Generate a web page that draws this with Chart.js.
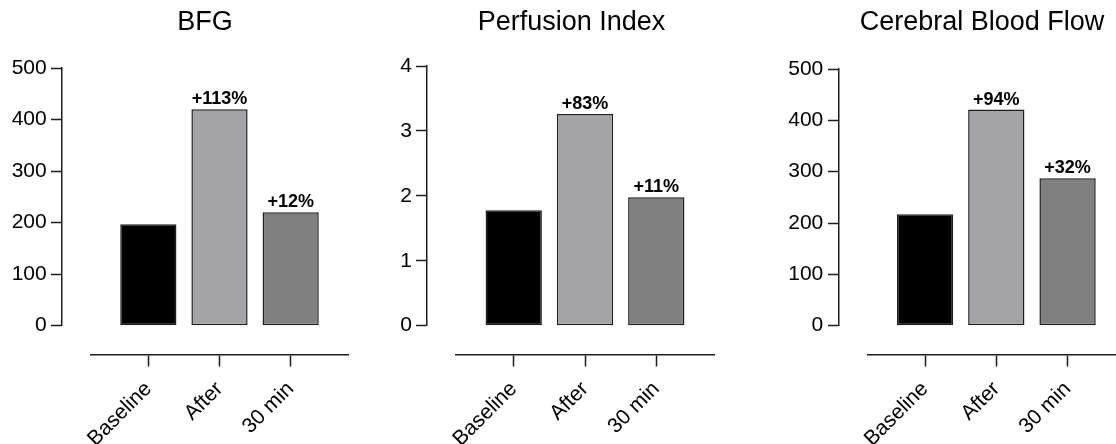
<!DOCTYPE html>
<html>
<head>
<meta charset="utf-8">
<script src="https://cdn.jsdelivr.net/npm/chart.js@4.4.1/dist/chart.umd.min.js"></script>
<style>
  html, body { margin: 0; padding: 0; background: #fff; overflow: hidden; }
  #wrap { position: relative; width: 1116px; height: 444px; overflow: hidden; }
  canvas { position: absolute; top: 0; }
</style>
</head>
<body>
<div id="wrap">
  <canvas id="bfgChart" width="410" height="444" style="left:0px"></canvas>
  <canvas id="perfusionChart" width="363" height="444" style="left:390px"></canvas>
  <canvas id="cbfChart" width="444" height="444" style="left:760px"></canvas>
</div>
<script>
const categories = ['Baseline', 'After', '30 min'];
const barColors = ['#000000', '#a4a4a8', '#808080'];

const bfgValues = [197, 420, 220];
const bfgChanges = ['', '+113%', '+12%'];
const bfgTicks = [0, 100, 200, 300, 400, 500];

const perfusionValues = [1.78, 3.26, 1.98];
const perfusionChanges = ['', '+83%', '+11%'];
const perfusionTicks = [0, 1, 2, 3, 4];

const cbfValues = [217, 421, 287];
const cbfChanges = ['', '+94%', '+32%'];
const cbfTicks = [0, 100, 200, 300, 400, 500];

const FONT = '"Liberation Sans", Arial, Helvetica, sans-serif';
const AXIS = '#1e1e1e';
const GAP = 29;        // px between the detached x and y axes (Prism style)
const LABEL_GAP = 44;  // px from plot left edge to right edge of y tick labels

function makeChart(id, title, values, changes, yTicks, area) {
  const canvas = document.getElementById(id);
  const yMax = yTicks[yTicks.length - 1];
  const xMin = -0.81, xMax = 2.81;
  const pxPerX = (area.right - area.left) / (xMax - xMin);
  const pxPerY = (area.bottom - area.top) / yMax;
  const side = canvas.width - area.right; // same padding both sides keeps title centred

  // percent change written above the bars
  const changeLabels = {
    id: 'changeLabels',
    afterDatasetsDraw(chart) {
      const ctx = chart.ctx;
      const bars = chart.getDatasetMeta(0).data;
      ctx.save();
      ctx.font = 'bold 18px ' + FONT;
      ctx.fillStyle = '#000';
      ctx.textAlign = 'center';
      ctx.textBaseline = 'alphabetic';
      bars.forEach((bar, i) => {
        if (changes[i]) ctx.fillText(changes[i], bar.x, bar.y - 5);
      });
      ctx.restore();
    }
  };

  const tickFont = { family: FONT, size: 21 };
  const yTickList = s => { s.ticks = yTicks.map(v => ({ value: v })); };

  return new Chart(canvas, {
    type: 'bar',
    data: {
      labels: categories.map((c, i) => i),
      datasets: [{
        data: values,
        yAxisID: 'y',
        backgroundColor: barColors,
        borderColor: AXIS,
        borderWidth: 1.5,
        borderSkipped: false,
        barPercentage: 0.79,
        categoryPercentage: 1,
      }],
    },
    options: {
      responsive: false,
      animation: false,
      events: [],
      layout: { padding: { left: side, right: side, top: 0, bottom: canvas.height - area.bottom } },
      plugins: {
        legend: { display: false },
        tooltip: { enabled: false },
        title: {
          display: true,
          text: title,
          color: '#000',
          font: { family: FONT, size: 27, weight: 'normal' },
          padding: { top: 6, bottom: area.top - 6 - 27 * 1.2 },
        },
      },
      scales: {
        x: {
          type: 'linear',
          min: xMin,
          max: xMax,
          offset: false,
          position: { y: -GAP / pxPerY },
          afterBuildTicks: s => { s.ticks = categories.map((c, i) => ({ value: i })); },
          ticks: {
            callback: v => categories[v],
            minRotation: 45,
            maxRotation: 45,
            padding: 11,
            color: '#000',
            font: tickFont,
          },
          grid: { offset: false, drawOnChartArea: false, tickLength: 11, tickWidth: 1.5, tickColor: AXIS },
          border: { color: AXIS, width: 1.5 },
        },
        y: {
          min: 0,
          max: yMax,
          position: { x: xMin - GAP / pxPerX },
          afterBuildTicks: yTickList,
          ticks: { display: false },
          grid: { drawOnChartArea: false, tickLength: 10, tickWidth: 1.5, tickColor: AXIS },
          border: { color: AXIS, width: 1.5 },
        },
        yLabels: {
          axis: 'y',
          min: 0,
          max: yMax,
          position: { x: xMin - LABEL_GAP / pxPerX },
          afterBuildTicks: yTickList,
          ticks: { padding: 0, color: '#000', font: tickFont },
          grid: { display: false, drawTicks: false },
          border: { display: false },
        },
        // empty left box: reserves the room left of the plot so the title stays centred
        ySpace: {
          axis: 'y',
          position: 'left',
          min: 0,
          max: yMax,
          ticks: { display: false },
          grid: { display: false, drawTicks: false },
          border: { display: false },
          afterFit: s => { s.width = area.left - side; },
        },
      },
    },
    plugins: [changeLabels],
  });
}

// canvas-space plot boxes; the title centres on the canvas (symmetric padding)
makeChart('bfgChart', 'BFG', bfgValues, bfgChanges, bfgTicks,
  { left: 90.7, right: 348.3, top: 68, bottom: 325.7 });
makeChart('perfusionChart', 'Perfusion Index', perfusionValues, perfusionChanges, perfusionTicks,
  { left: 66, right: 324, top: 66, bottom: 325.7 });
makeChart('cbfChart', 'Cerebral Blood Flow', cbfValues, cbfChanges, cbfTicks,
  { left: 107.3, right: 365.3, top: 69, bottom: 325.7 });
</script>
</body>
</html>
